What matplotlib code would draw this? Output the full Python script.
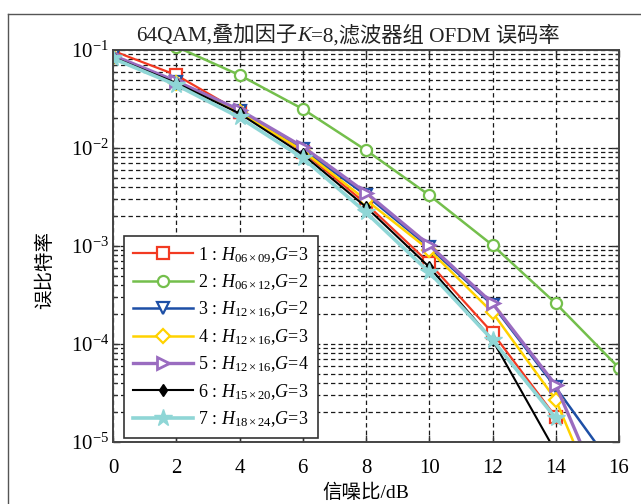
import matplotlib
matplotlib.use("Agg")
import matplotlib.pyplot as plt
from matplotlib.offsetbox import TextArea, HPacker, AnchoredOffsetbox
from matplotlib.lines import Line2D
from matplotlib.ticker import LogLocator, NullFormatter

plt.rcParams['font.family'] = ['Liberation Serif', 'Noto Sans CJK SC']
plt.rcParams['mathtext.fontset'] = 'custom'
plt.rcParams['mathtext.rm'] = 'Liberation Serif'
plt.rcParams['mathtext.it'] = 'Liberation Serif:italic'
plt.rcParams['mathtext.bf'] = 'Liberation Serif:bold'

# ---- data ----
snr_long = [0, 2, 4, 6, 8, 10, 12, 14, 16]
snr_short = [0, 2, 4, 6, 8, 10, 12, 14]
ber1 = [0.098, 0.0555, 0.0235, 0.0092, 0.0027, 6.7e-4, 1.3e-4, 1.8e-5]
ber2 = [0.2, 0.108, 0.0555, 0.025, 0.0095, 0.0033, 1.02e-3, 2.6e-4, 5.7e-5]
ber3 = [0.086, 0.047, 0.0238, 0.0097, 0.0033, 9.7e-4, 2.5e-4, 3.6e-5, 4.6e-6]
ber4 = [0.085, 0.046, 0.0232, 0.0094, 0.00295, 9.1e-4, 2.1e-4, 2.7e-5, 7.9e-7]
ber5 = [0.088, 0.048, 0.0245, 0.0103, 0.0035, 1.02e-3, 2.6e-4, 3.8e-5, 1.2e-6]
ber6 = [0.084, 0.046, 0.0225, 0.0086, 0.0025, 6.1e-4, 1.1e-4, 7.9e-6]
ber7 = [0.082, 0.044, 0.0205, 0.0079, 0.0022, 5.4e-4, 1.1e-4, 1.75e-5]

labels = [
    r"1 : $H_{06\times09}$,$G$=3",
    r"2 : $H_{06\times12}$,$G$=2",
    r"3 : $H_{12\times16}$,$G$=2",
    r"4 : $H_{12\times16}$,$G$=3",
    r"5 : $H_{12\times16}$,$G$=4",
    r"6 : $H_{15\times20}$,$G$=3",
    r"7 : $H_{18\times24}$,$G$=3",
]
xticks = [0, 2, 4, 6, 8, 10, 12, 14, 16]
title_parts = ["64QAM,叠加因子", "K", "=8,滤波器组 OFDM 误码率"]
xlabel = "信噪比/dB"
ylabel = "误比特率"

W, H = 641, 504
fig = plt.figure(figsize=(W / 100, H / 100), dpi=100)
ax = fig.add_axes([113 / W, 1 - 442 / H, (619 - 113) / W, (442 - 50) / H])

styles = [
    (snr_short, ber1, dict(color='#F23A22', marker='s', mfc='white', ms=8, lw=1.6, mew=1.6)),
    (snr_long, ber2, dict(color='#74BF4C', marker='o', mfc='white', ms=8, lw=1.8, mew=1.6)),
    (snr_long, ber3, dict(color='#1D4FA6', marker='v', mfc='white', ms=8, lw=1.8, mew=1.6)),
    (snr_long, ber4, dict(color='#FFD200', marker='D', mfc='white', ms=7, lw=1.8, mew=1.6)),
    (snr_long, ber5, dict(color='#9A6CC0', marker='>', mfc='white', ms=9, lw=2.4, mew=2.0)),
    (snr_short, ber6, dict(color='#000000', marker='d', mfc='black', ms=6, lw=1.5, mew=1.0)),
    (snr_short, ber7, dict(color='#8FD6D6', marker='*', mfc='#8FD6D6', ms=13, lw=2.6, mew=1.0)),
]
handles = []
for (xs, ys, st), lab in zip(styles, labels):
    h, = ax.plot(xs, ys, label=lab, **st)
    handles.append(h)

ax.set_yscale('log')
ax.set_xlim(0, 16)
ax.set_ylim(1e-5, 1e-1)
ax.set_xticks(xticks)
ax.set_xticklabels([str(t) for t in xticks])
ax.yaxis.set_major_locator(LogLocator(base=10, numticks=10))
ax.yaxis.set_minor_locator(LogLocator(base=10, subs=range(2, 10), numticks=50))
ax.yaxis.set_minor_formatter(NullFormatter())

ax.grid(True, which='major', axis='both', color='#1a1a1a', lw=0.9, linestyle=(0, (3.5, 2.5)))
ax.grid(True, which='minor', axis='y', color='#1a1a1a', lw=0.9, linestyle=(0, (3.5, 2.5)))

ax.tick_params(which='both', direction='in', top=True, right=True, labelsize=15,
               colors='#333333', labelcolor='black')
ax.tick_params(which='major', length=5, width=1.0)
ax.tick_params(axis='x', which='major', pad=12)
ax.tick_params(axis='y', which='major', pad=3)
ax.tick_params(which='minor', length=3, width=0.9)
for s in ax.spines.values():
    s.set_color('#444444')
    s.set_linewidth(1.4)

ax.set_xlabel(xlabel, fontsize=14)
ax.xaxis.set_label_coords(0.5, -0.105)
ax.set_ylabel(ylabel, fontsize=14)
ax.yaxis.set_label_coords(-0.117, 0.44)

leg = ax.legend(handles=handles, loc='lower left', bbox_to_anchor=(0.022, 0.01),
                borderaxespad=0, fontsize=13, handlelength=3.3, labelspacing=0.42,
                handletextpad=0.3, borderpad=0.5, fancybox=False, framealpha=1,
                edgecolor='#333333')
leg.get_frame().set_linewidth(1.2)

# title built from pieces (italic K)
tp_norm = dict(fontsize=15.3, family=['Liberation Serif', 'Noto Sans CJK SC'], color='#222222')
tp_it = dict(fontsize=15.3, family='Liberation Serif', style='italic', color='#222222')
boxes = [TextArea(title_parts[0], textprops=tp_norm),
         TextArea(title_parts[1], textprops=tp_it),
         TextArea(title_parts[2], textprops=tp_norm)]
pack = HPacker(children=boxes, align='baseline', pad=0, sep=0)
anch = AnchoredOffsetbox(loc='lower center', child=pack, pad=0, frameon=False,
                         bbox_to_anchor=((348 - 113) / 506, 1.01),
                         bbox_transform=ax.transAxes, borderpad=0)
ax.add_artist(anch)

# outer frame of the figure panel
fig.add_artist(Line2D([8 / W, 1.0], [1 - 14 / H, 1 - 14 / H], transform=fig.transFigure,
                      color='#555555', lw=1.0))
fig.add_artist(Line2D([8 / W, 8 / W], [0.0, 1 - 14 / H], transform=fig.transFigure,
                      color='#555555', lw=1.0))

fig.savefig('out.png', dpi=100)
